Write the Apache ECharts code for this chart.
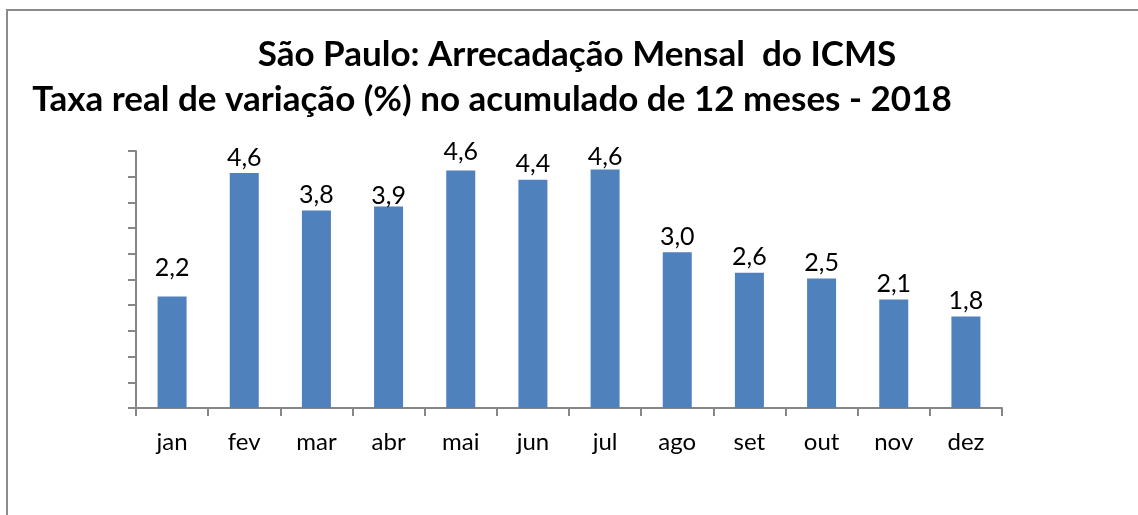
<!DOCTYPE html>
<html>
<head>
<meta charset="utf-8">
<title>ICMS São Paulo</title>
<script src="https://cdn.jsdelivr.net/npm/echarts@6/dist/echarts.min.js"></script>
<style>
  html, body { margin: 0; padding: 0; background: #fff; }
  #chart { width: 1138px; height: 515px; }
</style>
</head>
<body>
<div id="chart"></div>
<script>
var meses = ["jan", "fev", "mar", "abr", "mai", "jun", "jul", "ago", "set", "out", "nov", "dez"];
var taxa = [2.17, 4.57, 3.84, 3.92, 4.62, 4.44, 4.64, 3.03, 2.63, 2.52, 2.11, 1.78];
var titulo1 = "São Paulo: Arrecadação Mensal  do ICMS";
var titulo2 = "Taxa real de variação (%) no acumulado de 12 meses - 2018";

var chart = echarts.init(document.getElementById("chart"));
var fonte = "Lato, 'Open Sans', sans-serif";

// rótulos movidos à mão no original (jan mais alto, abr colado na barra)
var ajusteRotulo = { 0: [0, -13], 3: [0, 5], 4: [0, -3], 6: [0, 3] };

var dados = taxa.map(function (v, i) {
  var d = { value: v };
  if (ajusteRotulo[i]) {
    d.label = { offset: ajusteRotulo[i] };
  }
  return d;
});

chart.setOption({
  backgroundColor: "#ffffff",
  animation: false,
  title: [
    {
      text: titulo1,
      left: 572,
      top: 32,
      textAlign: "center",
      textStyle: { fontFamily: fonte, fontWeight: "bold", fontSize: 35, color: "#000" }
    },
    {
      text: titulo2,
      left: 487,
      top: 77,
      textAlign: "center",
      textStyle: { fontFamily: fonte, fontWeight: "bold", fontSize: 35, color: "#000" }
    }
  ],
  graphic: [
    {
      type: "polyline",
      shape: { points: [[7, 515], [7, 10], [1138, 10]] },
      style: { stroke: "#8c8c8c", lineWidth: 2, fill: null }
    }
  ],
  grid: { left: 136, right: 136, top: 151, bottom: 107 },
  xAxis: {
    type: "category",
    data: meses,
    axisLine: { lineStyle: { color: "#868686", width: 2 } },
    axisTick: { show: true, length: 8, lineStyle: { color: "#868686", width: 2 } },
    axisLabel: { fontFamily: fonte, fontSize: 24, color: "#000", margin: 22 }
  },
  yAxis: {
    type: "value",
    min: 0,
    max: 5,
    interval: 0.5,
    axisLine: { show: true, lineStyle: { color: "#868686", width: 2 } },
    axisTick: { show: true, length: 8, lineStyle: { color: "#868686", width: 2 } },
    axisLabel: { show: false },
    splitLine: { show: false }
  },
  series: [
    {
      name: "Taxa",
      type: "bar",
      data: dados,
      barWidth: 29,
      itemStyle: { color: "#4f81bd" },
      label: {
        show: true,
        position: "top",
        distance: 3,
        fontFamily: fonte,
        fontSize: 25,
        color: "#000",
        formatter: function (p) {
          return p.value.toFixed(1).replace(".", ",");
        }
      }
    }
  ]
});
</script>
</body>
</html>
